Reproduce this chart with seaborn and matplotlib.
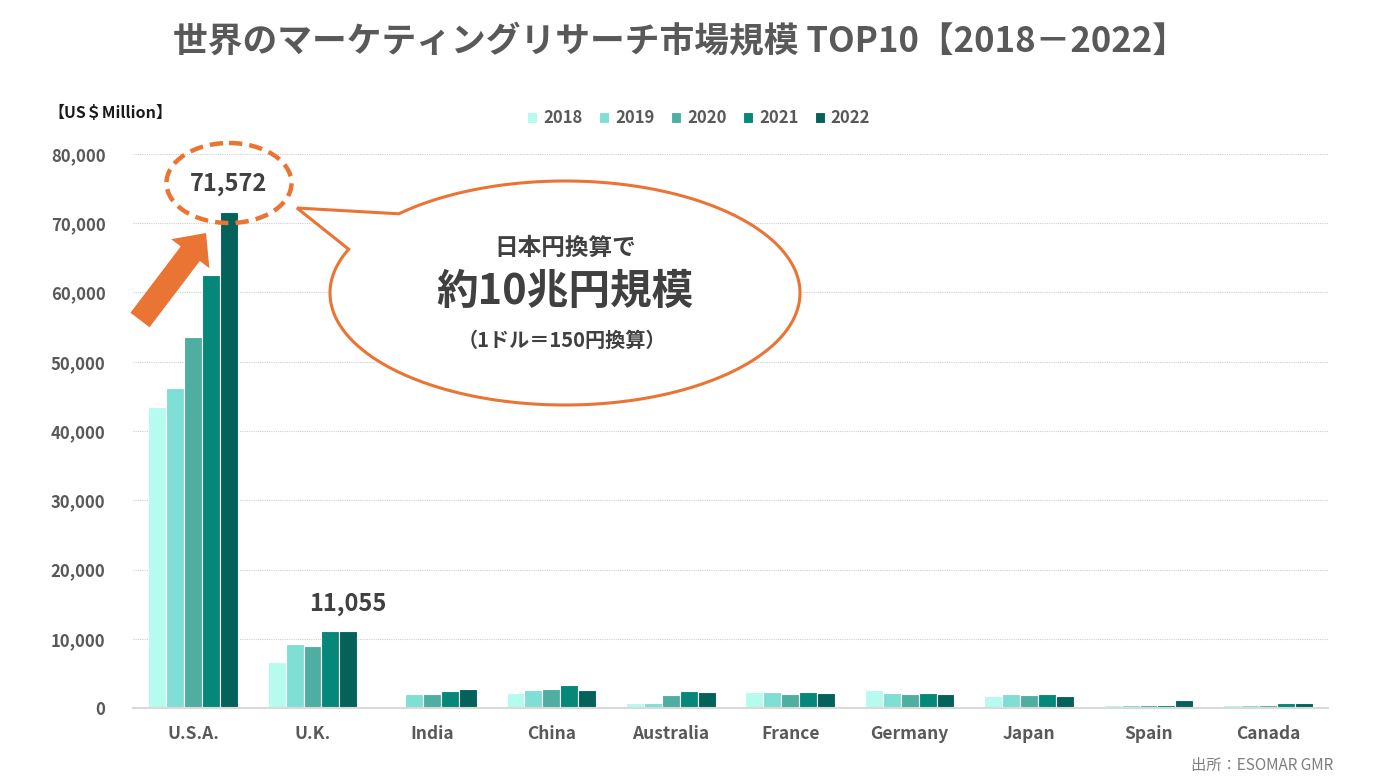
import numpy as np
import pandas as pd
import seaborn as sns
import matplotlib.pyplot as plt
from matplotlib.patches import Ellipse, PathPatch, FancyArrow
from matplotlib.path import Path
from matplotlib.transforms import Affine2D

countries = ['U.S.A.', 'U.K.', 'India', 'China', 'Australia', 'France', 'Germany', 'Japan', 'Spain', 'Canada']
years = ['2018', '2019', '2020', '2021', '2022']

v2018 = [43500, 6700, 250, 2200, 700, 2300, 2600, 1800, 450, 500]
v2019 = [46200, 9300, 2050, 2650, 650, 2300, 2200, 1950, 450, 450]
v2020 = [53600, 9000, 2050, 2800, 1900, 2000, 2000, 1900, 450, 450]
v2021 = [62500, 11050, 2450, 3250, 2400, 2250, 2200, 2000, 450, 650]
v2022 = [71572, 11055, 2750, 2650, 2300, 2200, 2000, 1800, 1150, 700]

colors = ['#B5FCEF', '#80DFD4', '#4EAEA2', '#058879', '#04625A']

rows = []
for year, vals in zip(years, [v2018, v2019, v2020, v2021, v2022]):
    for c, v in zip(countries, vals):
        rows.append({'Country': c, 'Year': year, 'Value': v})
df = pd.DataFrame(rows)

sns.set_theme(style='white')
plt.rcParams['font.family'] = ['Noto Sans CJK JP', 'DejaVu Sans']
plt.rcParams['font.weight'] = 'bold'

W, H = 1395, 783
fig = plt.figure(figsize=(W / 100, H / 100), dpi=100)
ax = fig.add_axes([133.3 / W, 1 - 708 / H, (1327.7 - 133.3) / W, (708 - 154) / H])

sns.barplot(data=df, x='Country', y='Value', hue='Year', palette=colors, saturation=1,
            width=0.75, edgecolor='white', linewidth=0.8, ax=ax)

ax.set_xlim(-0.5, 9.5)
ax.set_ylim(0, 80000)
ax.set_yticks(range(0, 80001, 10000))
ax.set_yticklabels([f'{v:,}' for v in range(0, 80001, 10000)])
ax.set_xlabel('')
ax.set_ylabel('')
ax.tick_params(axis='y', length=0, pad=20, labelsize=12, labelcolor='#595959')
ax.tick_params(axis='x', length=0, pad=12, labelsize=12.5, labelcolor='#595959')
for lab in ax.get_xticklabels() + ax.get_yticklabels():
    lab.set_fontweight('bold')
ax.yaxis.grid(True, linestyle=(0, (1, 1)), color='#CFCFCF', linewidth=0.8)
ax.set_axisbelow(True)
for s in ['top', 'right', 'left']:
    ax.spines[s].set_visible(False)
ax.spines['bottom'].set_color('#D9D9D9')
ax.spines['bottom'].set_linewidth(1.5)

# legend
handles, labels = ax.get_legend_handles_labels()
ax.legend(handles, labels, loc='center', bbox_to_anchor=(0.501, 0.849),
          bbox_transform=fig.transFigure, ncol=5, frameon=False,
          handlelength=0.6, handleheight=0.6, handletextpad=0.35, columnspacing=1.0,
          prop={'size': 12, 'weight': 'bold'}, labelcolor='#595959')

# value labels
n = len(years)
bw = 0.75 / n
x_last = np.arange(len(countries)) + (n - 1 - (n - 1) / 2) * bw
ax.annotate(f'{v2022[0]:,}', (x_last[0], v2022[0]), xytext=(0, 12), textcoords='offset points',
            ha='center', va='bottom', fontsize=17, fontweight='bold', color='#404040')
ax.annotate(f'{v2022[1]:,}', (x_last[1], v2022[1]), xytext=(0, 11), textcoords='offset points',
            ha='center', va='bottom', fontsize=17, fontweight='bold', color='#404040')

# pixel transform (image coords, y down)
px = Affine2D().scale(1 / W, -1 / H).translate(0, 1) + fig.transFigure

orange = '#EA7433'
fig.patches.append(Ellipse((229, 183), 125, 80, transform=px, fill=False,
                           edgecolor=orange, linewidth=3.2, linestyle=(0, (3, 1.6))))

fig.patches.append(FancyArrow(140, 320, 66, -87, width=24, head_width=48, head_length=26,
                              length_includes_head=True, transform=px,
                              facecolor=orange, edgecolor='none'))

# speech bubble
cx, cy, a, b = 565, 293, 235, 112
t = np.radians(np.linspace(-135, 203, 300))
pts = list(zip(cx + a * np.cos(t), cy + b * np.sin(t)))
pts.append((297, 208))
pts.append(pts[0])
codes = [Path.MOVETO] + [Path.LINETO] * (len(pts) - 2) + [Path.CLOSEPOLY]
fig.patches.append(PathPatch(Path(pts, codes), transform=px, facecolor='white',
                             edgecolor=orange, linewidth=2.2))

fig.text(565 / W, 1 - 248 / H, '日本円換算で', ha='center', va='center',
         fontsize=17, fontweight='bold', color='#404040')
fig.text(565 / W, 1 - 292 / H, '約10兆円規模', ha='center', va='center',
         fontsize=30, fontweight='bold', color='#404040')
fig.text(562 / W, 1 - 340 / H, '（1ドル＝150円換算）', ha='center', va='center',
         fontsize=14.5, fontweight='bold', color='#404040')

fig.text(680 / W, 1 - 42 / H, '世界のマーケティングリサーチ市場規模 TOP10【2018－2022】',
         ha='center', va='center', fontsize=25, fontweight='bold', color='#595959')
fig.text(48 / W, 1 - 113 / H, '【US＄Million】', ha='left', va='center',
         fontsize=11.5, fontweight='bold', color='#1A1A1A')
fig.text(1333 / W, 1 - 765 / H, '出所：ESOMAR GMR', ha='right', va='center',
         fontsize=11, fontweight='normal', color='#7F7F7F')

fig.savefig('out.png', dpi=100)
